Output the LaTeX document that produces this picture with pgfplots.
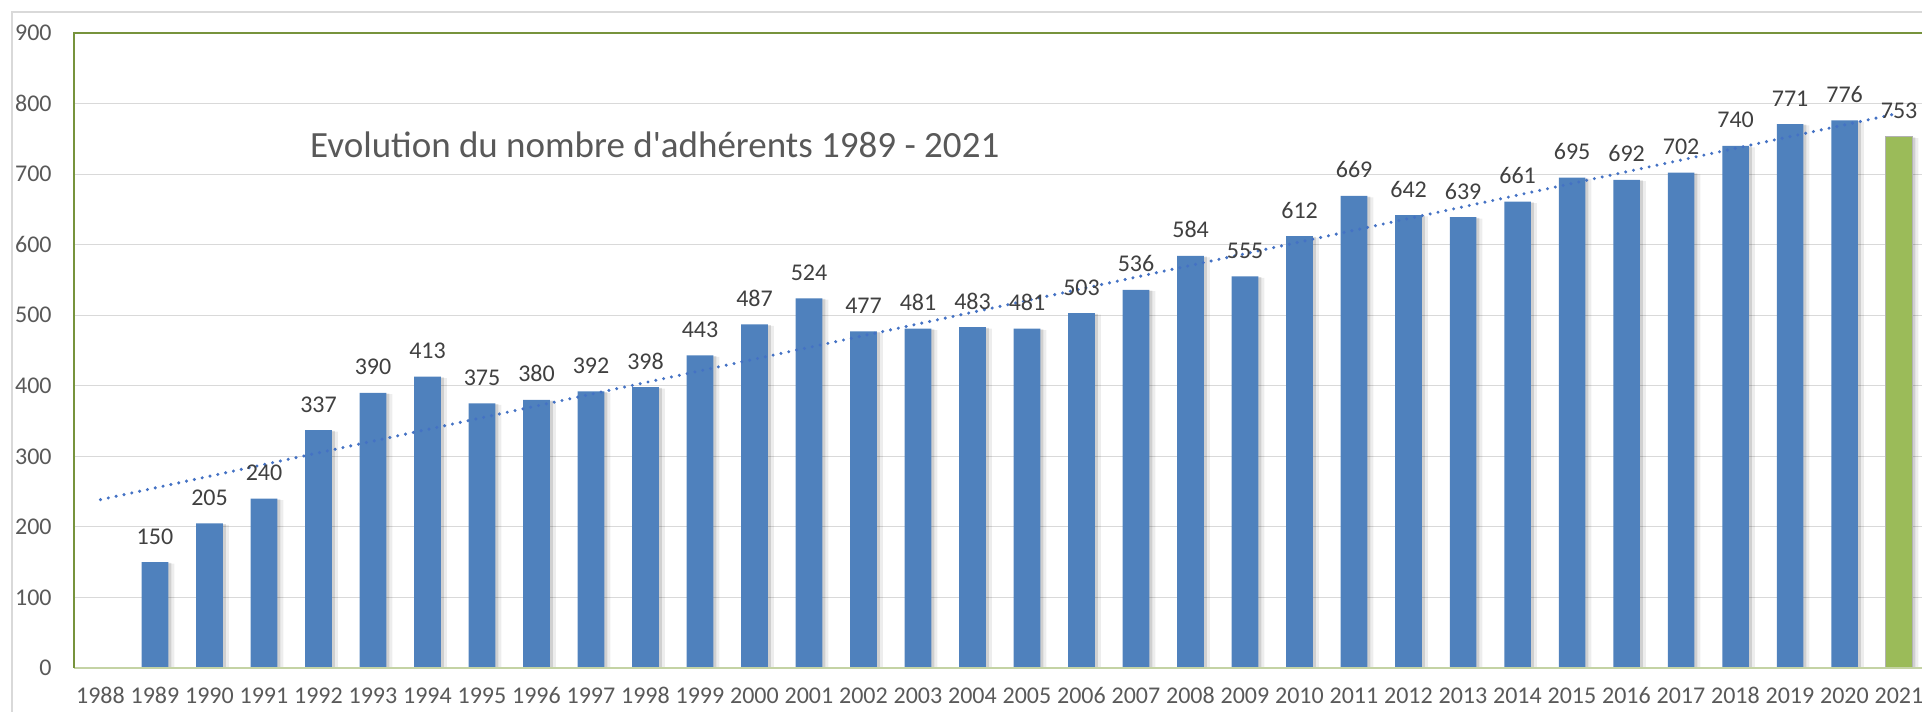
\documentclass[border=0pt]{standalone}
\usepackage{pgfplots}
\pgfplotsset{compat=1.18}
\usepackage{fontspec}
\setmainfont{Carlito}
\definecolor{barblue}{HTML}{4F81BD}
\definecolor{bargreen}{HTML}{9BBB59}
\definecolor{framegreen}{HTML}{77933C}
\definecolor{lightgreen}{HTML}{C4D3A4}
\definecolor{gridgray}{HTML}{D9D9D9}
\definecolor{txtgray}{HTML}{595959}
\definecolor{lbl}{HTML}{404040}
\definecolor{trend}{HTML}{4472C4}
\begin{document}
\begin{tikzpicture}
\useasboundingbox (0,0) rectangle (961pt,356pt);
\draw[gridgray, line width=0.8pt] (6pt,-30pt) rectangle (1000pt,350pt);
\begin{axis}[
  at={(37pt,22pt)}, anchor=south west,
  scale only axis, width=924pt, height=317.5pt,
  xmin=1987.514, xmax=2021.42, ymin=0, ymax=900,
  xtick={1988,...,2021}, ytick={0,100,...,900},
  /pgf/number format/assume math mode=true,
  /pgf/number format/1000 sep={},
  major tick length=0pt,
  axis line style={draw=none},
  ymajorgrids, grid style={gridgray, line width=0.6pt},
  ticklabel style={font=\fontsize{12pt}{14pt}\selectfont, text=txtgray},
  xticklabel style={anchor=base, yshift=-18pt},
  yticklabel style={anchor=east, inner sep=0pt, xshift=-11pt},
  ybar, bar width=13.35pt,
  clip=false,
]
% shadows
\addplot[bar shift=3pt, fill=black, fill opacity=0.07, draw=none] coordinates {
(1989,148)(1990,203)(1991,238)(1992,335)(1993,388)(1994,411)(1995,373)(1996,378)(1997,390)(1998,396)(1999,441)(2000,485)(2001,522)(2002,475)(2003,479)(2004,481)(2005,479)(2006,501)(2007,534)(2008,582)(2009,553)(2010,610)(2011,667)(2012,640)(2013,637)(2014,659)(2015,693)(2016,690)(2017,700)(2018,738)(2019,769)(2020,774)(2021,751)};
\addplot[bar shift=1.5pt, fill=black, fill opacity=0.12, draw=none] coordinates {
(1989,149)(1990,204)(1991,239)(1992,336)(1993,389)(1994,412)(1995,374)(1996,379)(1997,391)(1998,397)(1999,442)(2000,486)(2001,523)(2002,476)(2003,480)(2004,482)(2005,480)(2006,502)(2007,535)(2008,583)(2009,554)(2010,611)(2011,668)(2012,641)(2013,638)(2014,660)(2015,694)(2016,691)(2017,701)(2018,739)(2019,770)(2020,775)(2021,752)};
% main bars
\addplot[bar shift=0pt, fill=barblue, draw=none,
  nodes near coords, every node near coord/.append style={anchor=base, yshift=9pt, inner sep=0pt, font=\fontsize{12pt}{14pt}\selectfont, text=lbl}] coordinates {
(1989,150)(1990,205)(1991,240)(1992,337)(1993,390)(1994,413)(1995,375)(1996,380)(1997,392)(1998,398)(1999,443)(2000,487)(2001,524)(2002,477)(2003,481)(2004,483)(2005,481)(2006,503)(2007,536)(2008,584)(2009,555)(2010,612)(2011,669)(2012,642)(2013,639)(2014,661)(2015,695)(2016,692)(2017,702)(2018,740)(2019,771)(2020,776)};
\addplot[bar shift=0pt, fill=bargreen, draw=gray!60, line width=0.5pt,
  nodes near coords, every node near coord/.append style={anchor=base, yshift=9pt, inner sep=0pt, font=\fontsize{12pt}{14pt}\selectfont, text=lbl}] coordinates {(2021,753)};
% trend line
\addplot[sharp plot, trend, line width=1.7pt, line cap=round, dash pattern=on 0pt off 4pt] coordinates {(1988,238.6) (2021,786.4)};
% frame
\draw[lightgreen, line width=0.8pt] (rel axis cs:0,0) -- (rel axis cs:1,0);
\draw[framegreen, line width=0.9pt] (rel axis cs:0,0) -- (rel axis cs:0,1) -- (rel axis cs:1,1);
\node[anchor=base west, inner sep=0pt, text=txtgray, font=\fontsize{18.5pt}{22pt}\selectfont] at (axis cs:1991.84,724) {Evolution du nombre d\textquotesingle adhérents 1989 - 2021};
\end{axis}
\end{tikzpicture}
\end{document}
